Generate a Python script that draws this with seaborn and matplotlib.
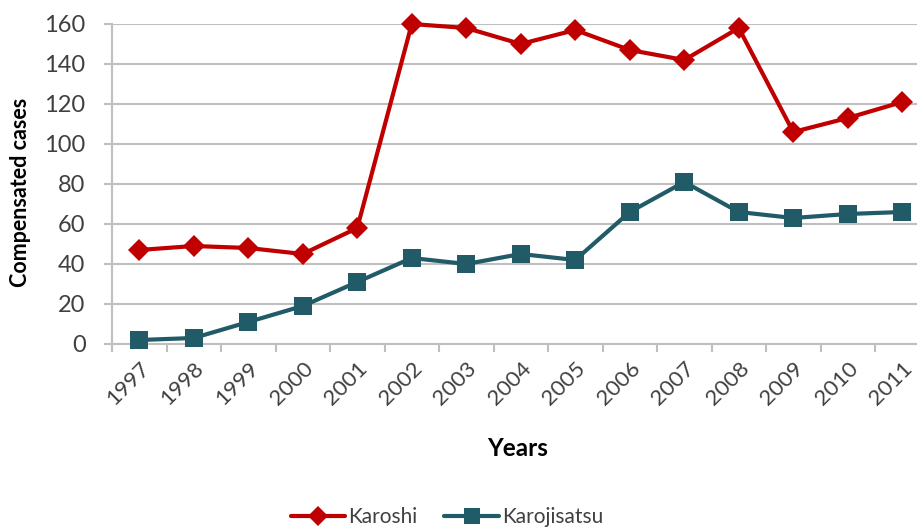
import matplotlib
matplotlib.use("Agg")
import matplotlib.pyplot as plt
import seaborn as sns
import pandas as pd
from matplotlib.ticker import FixedLocator
from matplotlib.lines import Line2D

years = [1997, 1998, 1999, 2000, 2001, 2002, 2003, 2004, 2005, 2006, 2007, 2008, 2009, 2010, 2011]
karoshi = [47, 49, 48, 45, 58, 160, 158, 150, 157, 147, 142, 158, 106, 113, 121]
karojisatsu = [2, 3, 11, 19, 31, 43, 40, 45, 42, 66, 81, 66, 63, 65, 66]
series_names = ["Karoshi", "Karojisatsu"]
y_ticks = [0, 20, 40, 60, 80, 100, 120, 140, 160]

df = pd.DataFrame({
    "Year": years * 2,
    "Cases": karoshi + karojisatsu,
    "Series": [series_names[0]] * len(years) + [series_names[1]] * len(years),
})

sns.set_theme(style="white")
plt.rcParams["font.family"] = ["Lato", "DejaVu Sans"]

fig = plt.figure(figsize=(9.17, 5.30), dpi=100)
W, H = 917, 530
left, right, top, bottom = 112, 929.5, 24, 344
ax = fig.add_axes([left / W, 1 - bottom / H, (right - left) / W, (bottom - top) / H])

palette = {"Karoshi": "#C00000", "Karojisatsu": "#215B68"}
sns.lineplot(data=df, x="Year", y="Cases", hue="Series", style="Series",
             markers={"Karoshi": "D", "Karojisatsu": "s"}, dashes=False,
             palette=palette, linewidth=3, ax=ax, legend=False, clip_on=False)
for line, ms in zip(ax.lines, [11, 13.5]):
    line.set_markersize(ms)
    line.set_markeredgewidth(0)
    line.set_zorder(5)

ax.set_xlim(years[0] - 0.5, years[-1] + 0.5)
ax.set_ylim(0, 160)
ax.set_yticks(y_ticks)
ax.set_xticks(years)
ax.set_xticklabels([str(y) for y in years], rotation=45, ha="right", rotation_mode="anchor")
ax.xaxis.set_minor_locator(FixedLocator([y - 0.5 for y in years] + [years[-1] + 0.5]))

grid_c = "#BFBFBF"
ax.yaxis.grid(True, color=grid_c, linewidth=1.5)
ax.xaxis.grid(False)
for s in ["top", "right"]:
    ax.spines[s].set_visible(False)
for s in ["left", "bottom"]:
    ax.spines[s].set_color(grid_c)
    ax.spines[s].set_linewidth(1.5)

ax.tick_params(axis="y", which="major", length=6, width=1.5, color=grid_c,
               labelsize=17, labelcolor="#404040", pad=13, left=True)
ax.tick_params(axis="x", which="major", length=0, labelsize=16, labelcolor="#404040", pad=10)
ax.tick_params(axis="x", which="minor", length=6, width=1.5, color=grid_c, bottom=True)

ax.set_xlabel("Years", fontsize=17.5, fontweight="bold", color="black")
ax.set_ylabel("Compensated cases", fontsize=15.5, fontweight="bold", color="black")
span = right - left
ax.xaxis.set_label_coords((518 - left) / span, -(437 - bottom) / (bottom - top))
ax.yaxis.set_label_coords((31 - left) / span, (bottom - 192) / (bottom - top))

handles = [
    Line2D([], [], color=palette["Karoshi"], marker="D", markersize=10, linewidth=3, markeredgewidth=0),
    Line2D([], [], color=palette["Karojisatsu"], marker="s", markersize=12, linewidth=3, markeredgewidth=0),
]
fig.legend(handles, series_names, loc="center", bbox_to_anchor=(447 / W, 1 - 517 / H),
           ncol=2, frameon=False, fontsize=15, handlelength=2.6, columnspacing=1.3,
           handletextpad=0.15, labelcolor="#404040")

fig.savefig("out.png", dpi=100)
